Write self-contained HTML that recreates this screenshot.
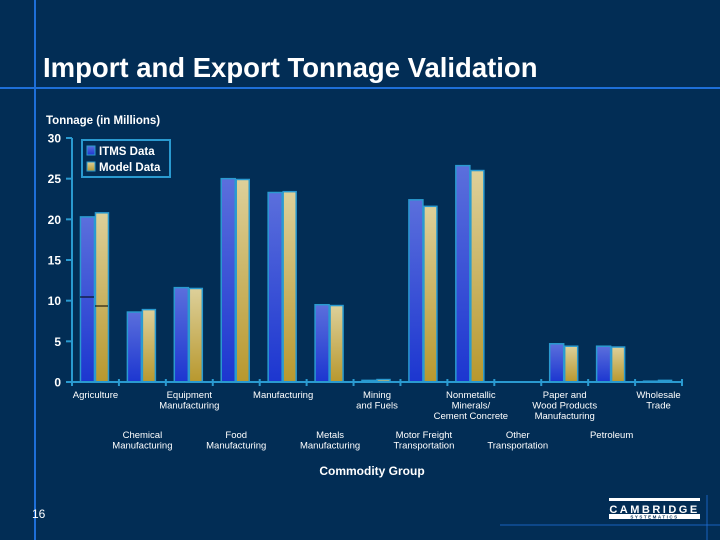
<!DOCTYPE html>
<html><head><meta charset="utf-8"><style>
body{margin:0;background:#022d55;width:720px;height:540px;overflow:hidden;font-family:"Liberation Sans",sans-serif;}
svg{display:block}
</style></head><body>
<svg width="720" height="540" viewBox="0 0 720 540">
<defs>
<linearGradient id="gb" x1="0" y1="0" x2="0" y2="1"><stop offset="0" stop-color="#5b6fdc"/><stop offset="1" stop-color="#1c36d0"/></linearGradient>
<linearGradient id="gy" x1="0" y1="0" x2="0" y2="1"><stop offset="0" stop-color="#ddd09a"/><stop offset="1" stop-color="#b8982e"/></linearGradient>
</defs>
<rect width="720" height="540" fill="#022d55"/>
<line x1="35" y1="0" x2="35" y2="540" stroke="#1e6fd8" stroke-width="2"/>
<line x1="0" y1="88" x2="720" y2="88" stroke="#1e6fd8" stroke-width="2"/>
<line x1="500" y1="525" x2="720" y2="525" stroke="#1e6fd8" stroke-width="1" opacity="0.8"/>
<line x1="707" y1="495" x2="707" y2="540" stroke="#1e6fd8" stroke-width="1" opacity="0.8"/>
<text x="43" y="77" fill="#fff" font-size="27.5" font-weight="bold">Import and Export Tonnage Validation</text>
<text x="46" y="124" fill="#fff" font-size="11.5" font-weight="bold">Tonnage (in Millions)</text>
<g id="chart"></g>
<rect x="82" y="140" width="88" height="37" fill="none" stroke="#2a9ad0" stroke-width="2"/>
<rect x="87" y="146" width="8" height="9" fill="url(#gb)" stroke="#2a9ad0"/>
<text x="99" y="155" fill="#fff" font-size="11.5" font-weight="bold">ITMS Data</text>
<rect x="87" y="162" width="8" height="9" fill="url(#gy)" stroke="#2a9ad0"/>
<text x="99" y="171" fill="#fff" font-size="11.5" font-weight="bold">Model Data</text>
<text x="372" y="475" fill="#fff" font-size="12" font-weight="bold" text-anchor="middle">Commodity Group</text>
<text x="32" y="518" fill="#fff" font-size="12">16</text>
<g>
<rect x="609" y="498" width="91" height="3" fill="#fff"/>
<text x="654.5" y="513" fill="#fff" font-size="11" font-weight="bold" text-anchor="middle" letter-spacing="2.5">CAMBRIDGE</text>
<rect x="609" y="514" width="91" height="5" fill="#fff"/>
<text x="654.5" y="518.5" fill="#022d55" font-size="4.5" font-weight="bold" text-anchor="middle" letter-spacing="1.5">SYSTEMATICS</text>
</g>
</svg>
<script>
const categories=[["Agriculture"],["Chemical","Manufacturing"],["Equipment","Manufacturing"],["Food","Manufacturing"],["Manufacturing"],["Metals","Manufacturing"],["Mining","and Fuels"],["Motor Freight","Transportation"],["Nonmetallic","Minerals/","Cement Concrete"],["Other","Transportation"],["Paper and","Wood Products","Manufacturing"],["Petroleum"],["Wholesale","Trade"]];
const itms=[20.3,8.6,11.6,25.0,23.3,9.5,0.2,22.4,26.6,0,4.7,4.4,0.1];
const model=[20.8,8.9,11.5,24.9,23.4,9.4,0.3,21.6,26.0,0,4.4,4.3,0.2];
const yTicks=[0,5,10,15,20,25,30];
const NS="http://www.w3.org/2000/svg";
const g=document.getElementById("chart");
const x0=72,x1=682,y0=382,y1=138,ymax=30;
const step=(x1-x0)/categories.length;
const yS=v=>y0-(v/ymax)*(y0-y1);
function el(t,a){const e=document.createElementNS(NS,t);for(const k in a)e.setAttribute(k,a[k]);g.appendChild(e);return e;}
let ax=el("line",{x1:x0,y1:y1,x2:x0,y2:y0,stroke:"#2a9ad0","stroke-width":2});


yTicks.forEach(t=>{const y=yS(t);
el("line",{x1:x0-6,y1:y,x2:x0,y2:y,stroke:"#2a9ad0","stroke-width":2});
const tx=el("text",{x:61,y:y+4.5,fill:"#fff","font-size":12,"font-weight":"bold","text-anchor":"end"});tx.textContent=t;

});
categories.forEach((c,i)=>{const cx=x0+step*(i+0.5);
const h1=y0-yS(itms[i]),h2=y0-yS(model[i]);
const b1=el("rect",{x:cx-15,y:yS(itms[i]),width:14,height:h1,fill:"url(#gb)",stroke:"#2a9ad0","stroke-width":1.5});


const b2=el("rect",{x:cx,y:yS(model[i]),width:13,height:h2,fill:"url(#gy)",stroke:"#2a9ad0","stroke-width":1.5});


const upper=i%2===0;const by=upper?398:438;
c.forEach((ln,j)=>{const t=el("text",{x:cx,y:by+j*10.5,fill:"#fff","font-size":9.5,"text-anchor":"middle"});t.textContent=ln;

});
});
let xa=el("line",{x1:x0,y1:y0,x2:x1,y2:y0,stroke:"#2a9ad0","stroke-width":2});


for(let i=0;i<=categories.length;i++){const x=x0+step*i;el("line",{x1:x,y1:y0-3,x2:x,y2:y0+4,stroke:"#2a9ad0","stroke-width":2});}
el("line",{x1:80,y1:297,x2:94,y2:297,stroke:"#000","stroke-width":1});
el("line",{x1:95,y1:306,x2:108,y2:306,stroke:"#000","stroke-width":1});
</script>
</body></html>
